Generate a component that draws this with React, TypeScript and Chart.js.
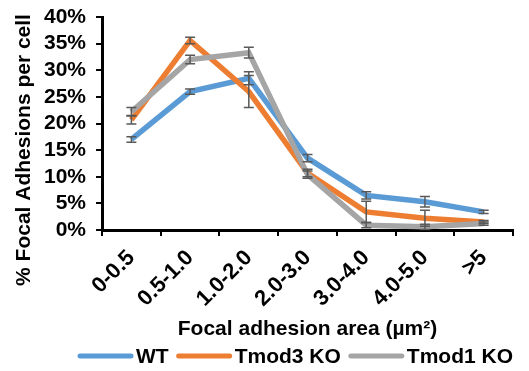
import React, { useEffect, useRef } from "react";
import { Chart, registerables } from "chart.js";

Chart.register(...registerables);

const categories = ["0-0.5", "0.5-1.0", "1.0-2.0", "2.0-3.0", "3.0-4.0", "4.0-5.0", ">5"];
const wtValues = [17.0, 26.0, 28.5, 13.5, 6.5, 5.3, 3.4];
const tmod3Values = [20.7, 35.6, 26.0, 10.7, 3.4, 2.2, 1.5];
const tmod1Values = [22.2, 32.0, 33.3, 10.4, 0.9, 0.6, 1.2];
const wtErrors = [0.5, 0.5, 1.2, 0.7, 0.7, 1.0, 0.3];
const tmod3Errors = [0.8, 0.6, 3.0, 0.7, 2.0, 1.5, 0.3];
const tmod1Errors = [0.8, 0.8, 1.0, 0.7, 0.5, 0.5, 0.3];
const yTicks = [0, 5, 10, 15, 20, 25, 30, 35, 40];
const yTitle = "% Focal Adhesions per cell";

const FONT = "'Liberation Sans', Arial, sans-serif";

const errorBarPlugin = {
  id: "errorBars",
  afterDatasetsDraw(chart: any) {
    const ctx = chart.ctx;
    const y = chart.scales.y;
    chart.data.datasets.forEach((ds: any, i: number) => {
      const meta = chart.getDatasetMeta(i);
      const errs: number[] = ds.errors || [];
      meta.data.forEach((pt: any, j: number) => {
        const v = ds.data[j];
        const e = errs[j] || 0;
        const x = pt.x;
        const yTop = y.getPixelForValue(v + e);
        const yBot = y.getPixelForValue(Math.max(0, v - e));
        ctx.save();
        ctx.strokeStyle = "#595959";
        ctx.lineWidth = 1.5;
        ctx.beginPath();
        ctx.moveTo(x, yTop);
        ctx.lineTo(x, yBot);
        ctx.moveTo(x - 5, yTop);
        ctx.lineTo(x + 5, yTop);
        ctx.moveTo(x - 5, yBot);
        ctx.lineTo(x + 5, yBot);
        ctx.stroke();
        ctx.restore();
      });
    });
  },
};

const yTitlePlugin = {
  id: "yTitle",
  afterDraw(chart: any) {
    const ctx = chart.ctx;
    ctx.save();
    ctx.translate(24, 150);
    ctx.rotate(-Math.PI / 2);
    ctx.font = `bold 21px ${FONT}`;
    ctx.fillStyle = "#000";
    ctx.textAlign = "center";
    ctx.textBaseline = "middle";
    ctx.fillText(yTitle, 0, 0);
    ctx.restore();
  },
};

const legendPlugin = {
  id: "customLegend",
  afterDraw(chart: any) {
    const ctx = chart.ctx;
    ctx.save();
    ctx.font = `bold 21px ${FONT}`;
    const lineW = 55;
    const gapText = 3;
    const gapItem = 8;
    const items = chart.data.datasets.map((ds: any) => ({
      label: ds.label as string,
      color: ds.borderColor as string,
      w: ctx.measureText(ds.label).width,
    }));
    let total = 0;
    items.forEach((it: any, i: number) => {
      total += lineW + gapText + it.w + (i < items.length - 1 ? gapItem : 0);
    });
    let x = 513 - total;
    const y = 356;
    items.forEach((it: any) => {
      ctx.strokeStyle = it.color;
      ctx.lineWidth = 5;
      ctx.lineCap = "round";
      ctx.beginPath();
      ctx.moveTo(x + 2, y);
      ctx.lineTo(x + lineW - 2, y);
      ctx.stroke();
      x += lineW + gapText;
      ctx.fillStyle = "#000";
      ctx.textAlign = "left";
      ctx.textBaseline = "middle";
      ctx.fillText(it.label, x, y + 1);
      x += it.w + gapItem;
    });
    ctx.restore();
  },
};

export default function App() {
  const ref = useRef<HTMLCanvasElement>(null);
  useEffect(() => {
    document.body.style.margin = "0";
    const chart = new Chart(ref.current as HTMLCanvasElement, {
      type: "line",
      data: {
        labels: categories,
        datasets: [
          {
            label: "WT",
            data: wtValues,
            errors: wtErrors,
            borderColor: "#5B9BD5",
            backgroundColor: "#5B9BD5",
            borderWidth: 5.5,
            pointRadius: 0,
            order: 2,
          } as any,
          {
            label: "Tmod3 KO",
            data: tmod3Values,
            errors: tmod3Errors,
            borderColor: "#ED7D31",
            backgroundColor: "#ED7D31",
            borderWidth: 5.5,
            pointRadius: 0,
            order: 1,
          } as any,
          {
            label: "Tmod1 KO",
            data: tmod1Values,
            errors: tmod1Errors,
            borderColor: "#A5A5A5",
            backgroundColor: "#A5A5A5",
            borderWidth: 5.5,
            pointRadius: 0,
            order: 0,
          } as any,
        ],
      },
      options: {
        animation: false,
        responsive: false,
        layout: { padding: { top: 17, right: 16, left: 34, bottom: 27 } },
        plugins: {
          legend: { display: false },
          tooltip: { enabled: false },
        },
        scales: {
          x: {
            offset: true,
            afterFit(scale: any) {
              scale.height = 114;
            },
            grid: {
              offset: true,
              drawOnChartArea: false,
              drawTicks: true,
              tickLength: 6,
              color: "#000",
              lineWidth: 2,
            },
            border: { color: "#000", width: 3 },
            ticks: {
              color: "#000",
              maxRotation: 45,
              minRotation: 45,
              autoSkip: false,
              padding: 9,
              font: { family: FONT, size: 22, weight: "bold" },
            },
            title: {
              display: true,
              text: "Focal adhesion area (µm²)",
              color: "#000",
              font: { family: FONT, size: 21, weight: "bold" },
              padding: { top: 0, bottom: 2 },
            },
          },
          y: {
            min: 0,
            max: 40,
            afterBuildTicks(axis: any) {
              axis.ticks = yTicks.map((v) => ({ value: v }));
            },
            afterFit(scale: any) {
              scale.paddingTop = 0;
              scale.paddingBottom = 0;
            },
            grid: {
              drawOnChartArea: false,
              drawTicks: true,
              tickLength: 6,
              color: "#000",
              lineWidth: 2,
            },
            border: { color: "#000", width: 3 },
            ticks: {
              color: "#000",
              padding: 10,
              autoSkip: false,
              font: { family: FONT, size: 21, weight: "bold" },
              callback: (v: any) => `${v}%`,
            },
          },
        },
      } as any,
      plugins: [errorBarPlugin, yTitlePlugin, legendPlugin],
    });
    return () => chart.destroy();
  }, []);
  return <canvas ref={ref} width={529} height={371} style={{ display: "block" }} />;
}
